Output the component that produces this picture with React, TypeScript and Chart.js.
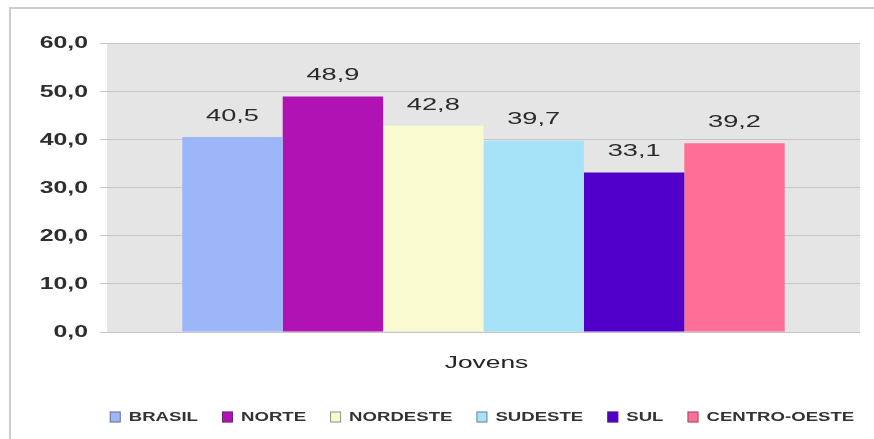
import React, { useEffect, useRef } from "react";
import { Chart, registerables } from "chart.js";

Chart.register(...registerables);

const categories = ["Jovens"];
const regions = ["BRASIL", "NORTE", "NORDESTE", "SUDESTE", "SUL", "CENTRO-OESTE"];
const values = [40.5, 48.9, 42.8, 39.7, 33.1, 39.2];
const colors = ["#9db6f8", "#b012b4", "#fafad0", "#a6e2f8", "#5000c8", "#fe6e96"];
const yTicks = [0, 10, 20, 30, 40, 50, 60];

const FONT = '"Liberation Sans", Arial, sans-serif';
const fmt = (v: number) => v.toFixed(1).replace(".", ",");

function drawStretched(
  ctx: CanvasRenderingContext2D,
  text: string,
  x: number,
  y: number,
  align: "left" | "center" | "right",
  font: string,
  sx: number,
  color: string
) {
  ctx.save();
  ctx.font = font;
  ctx.textBaseline = "middle";
  ctx.textAlign = "left";
  ctx.fillStyle = color;
  const w = ctx.measureText(text).width * sx;
  let left = x;
  if (align === "center") left = x - w / 2;
  if (align === "right") left = x - w;
  ctx.translate(left, y);
  ctx.scale(sx, 1);
  ctx.fillText(text, 0, 0);
  ctx.restore();
  return w;
}

const decorPlugin = {
  id: "decor",
  beforeDraw(chart: any) {
    const { ctx, chartArea, width, height } = chart;
    ctx.save();
    ctx.fillStyle = "#ffffff";
    ctx.fillRect(0, 0, width, height);
    // outer frame
    ctx.strokeStyle = "#cccccc";
    ctx.lineWidth = 2;
    ctx.beginPath();
    ctx.moveTo(10, height);
    ctx.lineTo(10, 8);
    ctx.lineTo(width, 8);
    ctx.stroke();
    // plot background
    ctx.fillStyle = "#e5e5e5";
    ctx.fillRect(chartArea.left, chartArea.top, chartArea.right - chartArea.left, chartArea.bottom - chartArea.top);
    ctx.restore();
  },
  afterDraw(chart: any) {
    const { ctx, chartArea } = chart;
    const yScale = chart.scales.y;
    // y tick labels
    yScale.ticks.forEach((t: any) => {
      const py = yScale.getPixelForValue(t.value);
      drawStretched(ctx, fmt(t.value), 88, py + 1, "right", `bold 16px ${FONT}`, 1.55, "#2e2e2e");
    });
    // data labels
    chart.data.datasets.forEach((ds: any, i: number) => {
      const meta = chart.getDatasetMeta(i);
      const el = meta.data[0];
      if (!el) return;
      drawStretched(ctx, fmt(ds.data[0]), el.x, el.y - 21, "center", `17px ${FONT}`, 1.6, "#2a2a2a");
    });
    // category label
    const xCenter = (chartArea.left + chartArea.right) / 2 + 3;
    drawStretched(ctx, chart.data.labels[0], xCenter, 363, "center", `17px ${FONT}`, 1.55, "#222222");
    // legend
    const font = `bold 12px ${FONT}`;
    const sx = 1.55;
    const box = 11;
    const gapBoxText = 8;
    const gapItem = 24;
    ctx.save();
    ctx.font = font;
    const widths = chart.data.datasets.map((ds: any) => ctx.measureText(ds.label).width * sx);
    ctx.restore();
    const total =
      widths.reduce((a: number, b: number) => a + b, 0) +
      widths.length * (box + gapBoxText) +
      (widths.length - 1) * gapItem;
    let x = 482 - total / 2;
    const ly = 417;
    chart.data.datasets.forEach((ds: any, i: number) => {
      ctx.save();
      ctx.fillStyle = ds.backgroundColor;
      ctx.fillRect(x, ly - box / 2, box, box);
      ctx.strokeStyle = "rgba(60,60,60,0.55)";
      ctx.lineWidth = 1;
      ctx.strokeRect(x + 0.5, ly - box / 2 + 0.5, box - 1, box - 1);
      ctx.restore();
      x += box + gapBoxText;
      drawStretched(ctx, ds.label, x, ly + 0.5, "left", font, sx, "#333333");
      x += widths[i] + gapItem;
    });
  },
};

export default function App() {
  const ref = useRef<HTMLCanvasElement | null>(null);
  useEffect(() => {
    if (!ref.current) return;
    const chart = new Chart(ref.current, {
      type: "bar",
      data: {
        labels: categories,
        datasets: regions.map((r, i) => ({
          label: r,
          data: [values[i]],
          backgroundColor: colors[i],
          borderWidth: 0,
          categoryPercentage: 0.8,
          barPercentage: 1.0,
        })),
      },
      options: {
        responsive: false,
        animation: false,
        layout: { padding: { top: 43, right: 14, bottom: 107, left: 0 } },
        plugins: {
          legend: { display: false },
          tooltip: { enabled: false },
          title: { display: false },
        },
        scales: {
          x: { display: false },
          y: {
            min: 0,
            max: 60,
            afterBuildTicks: (scale: any) => {
              scale.ticks = yTicks.map((v) => ({ value: v }));
            },
            afterFit: (scale: any) => {
              scale.width = 107;
            },
            ticks: { display: false },
            border: { display: false },
            grid: {
              color: "#c6c6c6",
              lineWidth: 1,
              drawTicks: true,
              tickLength: 7,
            },
          },
        },
      },
      plugins: [decorPlugin],
    });
    return () => chart.destroy();
  }, []);
  return (
    <div style={{ position: "absolute", left: 0, top: 0, width: 874, height: 439 }}>
      <canvas ref={ref} width={874} height={439} style={{ display: "block" }} />
    </div>
  );
}
